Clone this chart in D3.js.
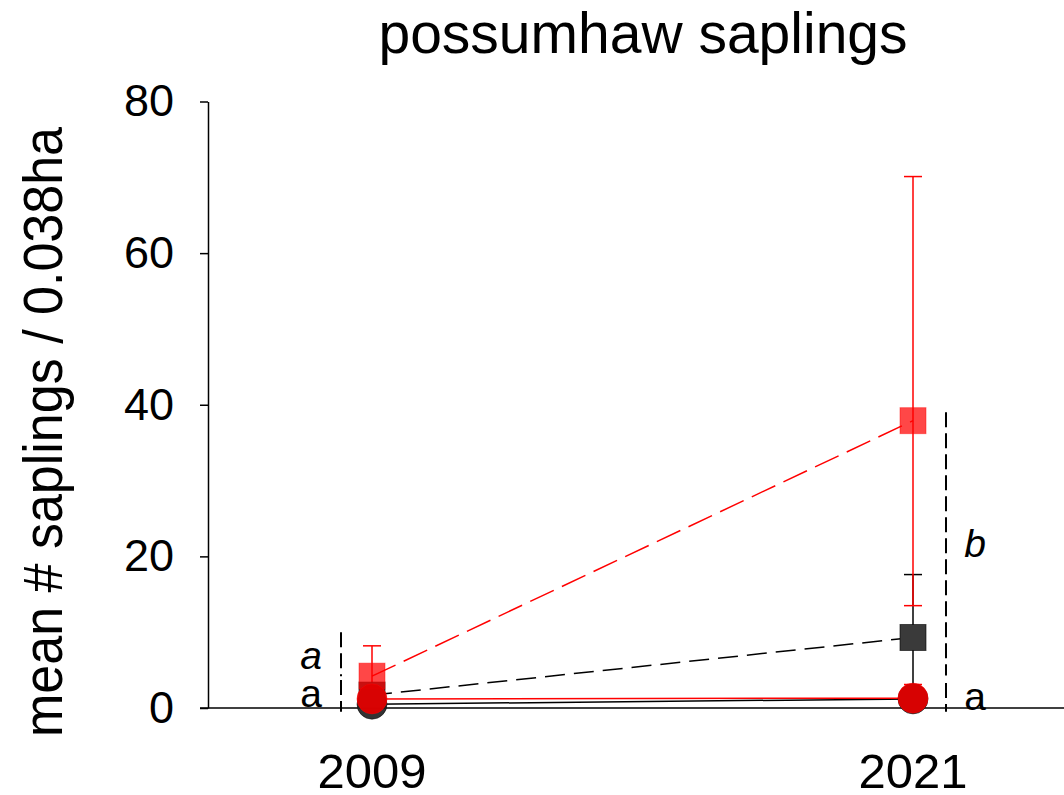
<!DOCTYPE html>
<html>
<head>
<meta charset="utf-8">
<script src="https://cdn.jsdelivr.net/npm/d3@7"></script>
<style>
  body { margin: 0; background: #fff; }
  text { font-family: "Liberation Sans", Arial, sans-serif; fill: #000; }
</style>
</head>
<body>
<div id="chart"></div>
<script>
// donnees
var years = ["2009", "2021"];
var yTicks = [0, 20, 40, 60, 80];

var blackCircleMean = [0.5, 1.2];
var blackCircleLow = [0.2, 0.6];
var blackCircleHigh = [0.9, 1.9];

var redCircleMean = [1.2, 1.3];
var redCircleLow = [0.4, 0.7];
var redCircleHigh = [2.1, 3.1];

var blackSquareMean = [1.7, 9.3];
var blackSquareLow = [1.0, 1.0];
var blackSquareHigh = [2.4, 17.6];

var redSquareMean = [4.2, 37.9];
var redSquareLow = [0.3, 13.5];
var redSquareHigh = [8.2, 70.1];

// lettres de significativite
var letters2009 = [{ txt: "a", italic: true, v: 6.8 }, { txt: "a", italic: false, v: 1.9 }];
var letters2021 = [{ txt: "b", italic: true, v: 21.6 }, { txt: "a", italic: false, v: 1.5 }];
var brackets2009 = [[4.2, 10.0], [-0.5, 3.7]];
var brackets2021 = [[4.3, 39.0], [-0.5, 3.3]];

var width = 1064;
var height = 795;

var svg = d3.select("#chart").append("svg")
  .attr("width", width)
  .attr("height", height);

var x = d3.scalePoint().domain(years).range([372, 913]);
var y = d3.scaleLinear().domain([0, 80]).range([708, 101.5]);

// titre
svg.append("text")
  .attr("x", 643)
  .attr("y", 53)
  .attr("text-anchor", "middle")
  .style("font-size", "57px")
  .text("possumhaw saplings");

// axe y
var yAxis = svg.append("g")
  .attr("transform", "translate(208,0)")
  .call(d3.axisLeft(y).tickValues(yTicks).tickSize(8).tickSizeOuter(0).tickPadding(26));
yAxis.select(".domain").attr("stroke", "#000").attr("stroke-width", 1.5);
yAxis.selectAll(".tick line").attr("stroke", "#000").attr("stroke-width", 1.5);
yAxis.selectAll(".tick text").style("font-size", "45px").attr("font-family", null);

// axe x (ligne seulement)
svg.append("line")
  .attr("x1", 200).attr("x2", width)
  .attr("y1", y(0)).attr("y2", y(0))
  .attr("stroke", "#000").attr("stroke-width", 1.5);

svg.selectAll(".xlab")
  .data(years)
  .enter()
  .append("text")
  .attr("class", "xlab")
  .attr("x", function (d) { return x(d); })
  .attr("y", 788)
  .attr("text-anchor", "middle")
  .style("font-size", "49px")
  .text(function (d) { return d; });

// titre axe y
svg.append("text")
  .attr("transform", "translate(62,432) rotate(-90)")
  .attr("text-anchor", "middle")
  .attr("textLength", 610)
  .attr("lengthAdjust", "spacingAndGlyphs")
  .style("font-size", "55px")
  .text("mean # saplings / 0.038ha");

function makeSeries(mean, low, high) {
  return years.map(function (yr, i) {
    return { year: yr, mean: mean[i], low: low[i], high: high[i] };
  });
}

var series = [
  { key: "blackCircle", shape: "circle", color: "#000", fill: "#333", opacity: 1, dash: null, data: makeSeries(blackCircleMean, blackCircleLow, blackCircleHigh) },
  { key: "blackSquare", shape: "square", color: "#000", fill: "#3a3a3a", opacity: 1, dash: "20,9", data: makeSeries(blackSquareMean, blackSquareLow, blackSquareHigh) },
  { key: "redSquare", shape: "square", color: "#ff0000", fill: "#f00", opacity: 0.72, dash: "26,9", data: makeSeries(redSquareMean, redSquareLow, redSquareHigh) },
  { key: "redCircle", shape: "circle", color: "#ff0000", fill: "#e00000", opacity: 0.95, dash: null, data: makeSeries(redCircleMean, redCircleLow, redCircleHigh) }
];

var line = d3.line()
  .x(function (d) { return x(d.year); })
  .y(function (d) { return y(d.mean); });

// lignes de liaison
series.forEach(function (s) {
  svg.append("path")
    .datum(s.data)
    .attr("d", line)
    .attr("fill", "none")
    .attr("stroke", s.color)
    .attr("stroke-width", 1.5)
    .attr("stroke-dasharray", s.dash);
});

// barres d'erreur
series.forEach(function (s) {
  var g = svg.append("g").attr("class", "err-" + s.key);
  g.selectAll("line.v")
    .data(s.data)
    .enter()
    .append("line")
    .attr("class", "v")
    .attr("x1", function (d) { return x(d.year); })
    .attr("x2", function (d) { return x(d.year); })
    .attr("y1", function (d) { return y(d.low); })
    .attr("y2", function (d) { return y(d.high); })
    .attr("stroke", s.color)
    .attr("stroke-width", 1.5);
  ["low", "high"].forEach(function (k) {
    g.selectAll("line.cap-" + k)
      .data(s.data)
      .enter()
      .append("line")
      .attr("class", "cap-" + k)
      .attr("x1", function (d) { return x(d.year) - 9; })
      .attr("x2", function (d) { return x(d.year) + 9; })
      .attr("y1", function (d) { return y(d[k]); })
      .attr("y2", function (d) { return y(d[k]); })
      .attr("stroke", s.color)
      .attr("stroke-width", 1.5);
  });
});

// symboles
series.forEach(function (s) {
  var g = svg.append("g").attr("class", "pts-" + s.key);
  if (s.shape == "square") {
    g.selectAll("rect")
      .data(s.data)
      .enter()
      .append("rect")
      .attr("x", function (d) { return x(d.year) - 13; })
      .attr("y", function (d) { return y(d.mean) - 13; })
      .attr("width", 26)
      .attr("height", 26)
      .attr("fill", s.fill)
      .attr("fill-opacity", s.opacity)
      .attr("stroke", s.color)
      .attr("stroke-opacity", s.opacity * 0.6)
      .attr("stroke-width", 1);
  } else {
    g.selectAll("circle")
      .data(s.data)
      .enter()
      .append("circle")
      .attr("cx", function (d) { return x(d.year); })
      .attr("cy", function (d) { return y(d.mean); })
      .attr("r", 15)
      .attr("fill", s.fill)
      .attr("fill-opacity", s.opacity)
      .attr("stroke", s.color)
      .attr("stroke-opacity", 0.5)
      .attr("stroke-width", 1);
  }
});

// lettres et crochets pointilles
function drawLetters(xPos, xText, letters, brackets) {
  brackets.forEach(function (b) {
    svg.append("line")
      .attr("x1", xPos).attr("x2", xPos)
      .attr("y1", y(b[1])).attr("y2", y(b[0]))
      .attr("stroke", "#000")
      .attr("stroke-width", 2)
      .attr("stroke-dasharray", "15,6");
  });
  letters.forEach(function (l) {
    svg.append("text")
      .attr("x", xText)
      .attr("y", y(l.v) + 13)
      .attr("text-anchor", "middle")
      .style("font-size", "39px")
      .style("font-style", l.italic ? "italic" : "normal")
      .text(l.txt);
  });
}

drawLetters(x("2009") - 31, x("2009") - 61, letters2009, brackets2009);
drawLetters(x("2021") + 33, x("2021") + 62, letters2021, brackets2021);
</script>
</body>
</html>
